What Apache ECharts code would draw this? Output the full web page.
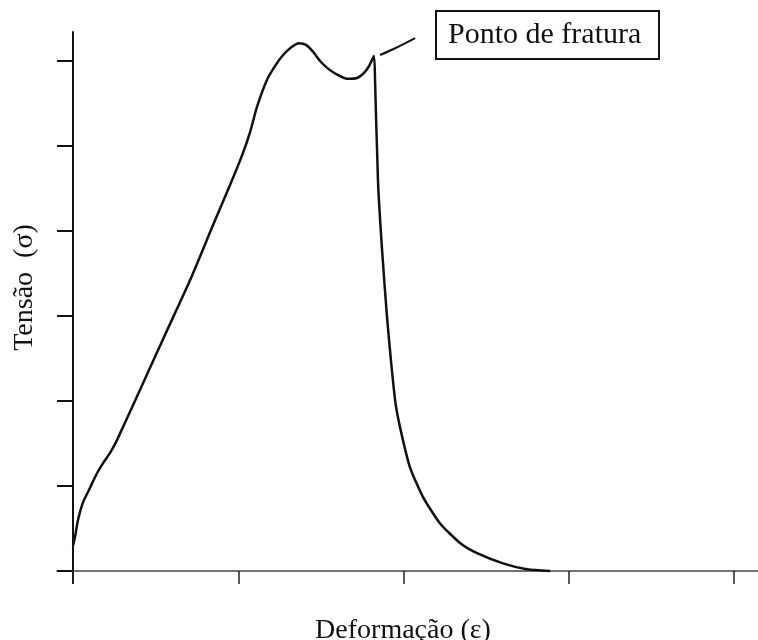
<!DOCTYPE html>
<html>
<head>
<meta charset="utf-8">
<script src="https://cdn.jsdelivr.net/npm/echarts@6/dist/echarts.min.js"></script>
<style>
  html, body { margin: 0; padding: 0; background: #fff; }
  #chart { width: 758px; height: 640px; }
</style>
</head>
<body>
<div id="chart"></div>
<script>
// curva tensão x deformação (unidades de tick)
var strainValues = [0, 0.012, 0.030, 0.061, 0.103, 0.145, 0.182, 0.224, 0.266, 0.405, 0.557, 0.708, 0.841, 0.950, 1.023, 1.071, 1.113, 1.174, 1.222, 1.271, 1.319, 1.368, 1.410, 1.452, 1.495, 1.543, 1.598, 1.658, 1.719, 1.761, 1.791, 1.821, 1.828, 1.846, 1.870, 1.900, 1.949, 1.979, 2.039, 2.118, 2.221, 2.342, 2.445, 2.602, 2.747, 2.887];
var stressValues = [0.30, 0.40, 0.60, 0.81, 0.98, 1.15, 1.27, 1.39, 1.54, 2.13, 2.78, 3.42, 4.04, 4.54, 4.89, 5.16, 5.46, 5.78, 5.94, 6.07, 6.16, 6.21, 6.19, 6.11, 6.00, 5.91, 5.84, 5.79, 5.80, 5.86, 5.94, 6.06, 5.74, 4.56, 3.78, 2.99, 2.01, 1.69, 1.22, 0.87, 0.56, 0.33, 0.21, 0.09, 0.02, 0];
// linha de chamada até a caixa "Ponto de fratura"
var leaderStrain = [1.858, 1.949, 2.070];
var leaderStress = [6.07, 6.15, 6.27];
// ticks
var xTicks = [0, 1, 2, 3, 4];
var yTicks = [0, 1, 2, 3, 4, 5, 6];

var chart = echarts.init(document.getElementById('chart'));

var curveData = strainValues.map(function (x, i) { return [x, stressValues[i]]; });
var leaderData = leaderStrain.map(function (x, i) { return [x, leaderStress[i]]; });

var serif = 'Liberation Serif';

option = {
  backgroundColor: '#fff',
  animation: false,
  title: {
    text: 'Ponto de fratura',
    left: 436,
    top: 11,
    padding: [9, 18, 9, 12],
    borderColor: '#111',
    borderWidth: 2,
    textStyle: {
      fontFamily: serif,
      fontSize: 30,
      fontWeight: 'normal',
      color: '#111'
    }
  },
  grid: {
    left: 57,
    right: 0,
    top: 32,
    bottom: 57,
    outerBoundsMode: 'none'
  },
  xAxis: {
    type: 'value',
    min: -0.097,
    max: 4.145,
    name: 'Deformação (ε)',
    nameLocation: 'middle',
    nameGap: 34,
    nameTextStyle: {
      fontFamily: serif,
      fontSize: 28,
      color: '#111',
      padding: [0, 9, 0, 0]
    },
    axisLine: {
      onZero: true,
      lineStyle: { color: '#444', width: 1.5 }
    },
    axisTick: {
      show: true,
      length: 13,
      customValues: xTicks,
      lineStyle: { color: '#222', width: 1.5 }
    },
    axisLabel: { show: false },
    splitLine: { show: false }
  },
  yAxis: {
    type: 'value',
    min: -0.141,
    max: 6.341,
    name: 'Tensão  (σ)',
    nameLocation: 'middle',
    nameGap: 18,
    nameRotate: 90,
    nameTextStyle: {
      fontFamily: serif,
      fontSize: 28,
      color: '#111',
      padding: [0, 0, 0, 40]
    },
    axisLine: {
      onZero: true,
      lineStyle: { color: '#111', width: 2 }
    },
    axisTick: {
      show: true,
      length: 16,
      customValues: yTicks,
      lineStyle: { color: '#111', width: 2 }
    },
    axisLabel: { show: false },
    splitLine: { show: false }
  },
  series: [
    {
      type: 'line',
      data: curveData,
      showSymbol: false,
      smooth: 0.2,
      lineStyle: { color: '#111', width: 2.5 }
    },
    {
      type: 'line',
      data: leaderData,
      showSymbol: false,
      smooth: 0.3,
      lineStyle: { color: '#111', width: 2 }
    }
  ]
};
chart.setOption(option);
</script>
</body>
</html>
